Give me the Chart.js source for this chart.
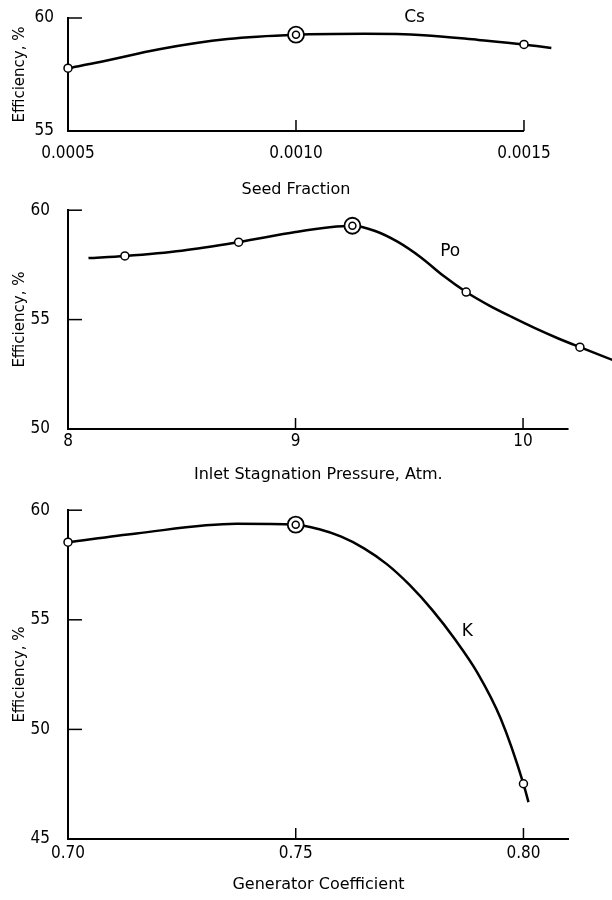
<!DOCTYPE html>
<html lang="en">

<head>
    <meta charset="UTF-8">
    <title>Efficiency vs Seed Fraction, Pressure, Generator Coefficient</title>
    <style>
        body {
            background-color: #fff;
            margin: 0;
            padding: 0;
        }

        #wrap {
            position: relative;
            width: 612px;
            height: 900px;
        }

        .panel {
            position: absolute;
            left: 0;
            width: 612px;
        }
    </style>
</head>

<body>
    <div id="wrap">
        <div class="panel" style="top:0"><canvas id="chartCs" width="612" height="210"></canvas></div>
        <div class="panel" style="top:190px"><canvas id="chartPo" width="612" height="300"></canvas></div>
        <div class="panel" style="top:490px"><canvas id="chartK" width="612" height="410"></canvas></div>
    </div>

    <script src="https://cdn.jsdelivr.net/npm/chart.js"></script>
    <script>
        // --- Seed fraction (Cs) ---
        const csCurveX = [0.0005, 0.00057, 0.0007, 0.00085, 0.0010, 0.00115, 0.00128, 0.00140, 0.0015, 0.00156];
        const csCurveY = [57.78, 58.05, 58.62, 59.07, 59.26, 59.30, 59.24, 59.03, 58.83, 58.67];
        const csPointX = [0.0005, 0.0015];
        const csPointY = [57.78, 58.83];
        const csDesign = [0.0010, 59.26];
        const csTicks = [0.0005, 0.0010, 0.0015];
        const csTickLabels = ['0.0005', '0.0010', '0.0015'];

        // --- Inlet stagnation pressure (Po) ---
        const poCurveX = [8.09, 8.25, 8.5, 8.75, 9.0, 9.15, 9.25, 9.35, 9.45, 9.55, 9.65, 9.75, 9.85, 9.95, 10.05, 10.15, 10.25, 10.40];
        const poCurveY = [57.81, 57.91, 58.15, 58.54, 59.0, 59.22, 59.29, 59.05, 58.55, 57.85, 57.0, 56.26, 55.65, 55.12, 54.62, 54.16, 53.74, 53.13];
        const poPointX = [8.25, 8.75, 9.75, 10.25];
        const poPointY = [57.91, 58.54, 56.26, 53.74];
        const poDesign = [9.25, 59.29];
        const poTicks = [8, 9, 10];
        const poTickLabels = ['8', '9', '10'];

        // --- Generator coefficient (K) ---
        const kCurveX = [0.70, 0.715, 0.737, 0.75, 0.755, 0.76, 0.765, 0.77, 0.775, 0.78, 0.785, 0.79, 0.795, 0.80, 0.8011];
        const kCurveY = [58.54, 58.94, 59.38, 59.34, 59.14, 58.79, 58.26, 57.54, 56.59, 55.44, 54.10, 52.55, 50.50, 47.52, 46.68];
        const kPointX = [0.70, 0.80];
        const kPointY = [58.54, 47.52];
        const kDesign = [0.75, 59.34];
        const kTicks = [0.70, 0.75, 0.80];
        const kTickLabels = ['0.70', '0.75', '0.80'];

        const tickFont = "'DejaVu Sans Condensed', 'Liberation Sans Narrow', 'DejaVu Sans', sans-serif";
        const titleFont = "'DejaVu Sans', sans-serif";

        // x axis line + title, small inward tick marks and the curve name, all from the scales
        const innerTicks = {
            id: 'innerTicks',
            afterDraw(chart, args, opts) {
                const { ctx, chartArea, scales: { x, y } } = chart;
                const axisEndPx = x.getPixelForValue(opts.axisEnd);
                ctx.save();
                ctx.strokeStyle = '#000';
                ctx.lineWidth = 2;
                ctx.beginPath();
                ctx.moveTo(chartArea.left, chartArea.bottom);
                ctx.lineTo(axisEndPx, chartArea.bottom);
                ctx.stroke();

                ctx.lineWidth = 1.5;
                y.ticks.forEach(t => {
                    if (t.value === y.min) return;
                    const py = y.getPixelForValue(t.value);
                    ctx.beginPath();
                    ctx.moveTo(chartArea.left, py);
                    ctx.lineTo(chartArea.left + 14, py);
                    ctx.stroke();
                });
                x.ticks.forEach(t => {
                    if (t.value === x.min) return;
                    const px = x.getPixelForValue(t.value);
                    ctx.beginPath();
                    ctx.moveTo(px, chartArea.bottom);
                    ctx.lineTo(px, chartArea.bottom - 11);
                    ctx.stroke();
                });

                ctx.fillStyle = '#000';
                ctx.textAlign = 'center';
                ctx.textBaseline = 'middle';
                // axis title, centred under the drawn axis line
                ctx.font = '16px ' + titleFont;
                ctx.fillText(opts.title, (chartArea.left + axisEndPx) / 2, chartArea.bottom + opts.titleOffset);
                // curve name
                ctx.font = '17px ' + titleFont;
                ctx.fillText(opts.text, x.getPixelForValue(opts.x), y.getPixelForValue(opts.y));
                ctx.restore();
            }
        };

        function toPoints(xs, ys) {
            return xs.map((v, i) => ({ x: v, y: ys[i] }));
        }

        function makeChart(id, cfg) {
            const ctx = document.getElementById(id).getContext('2d');
            return new Chart(ctx, {
                type: 'line',
                data: {
                    datasets: [
                        {   // inner ring of the design point
                            data: [{ x: cfg.design[0], y: cfg.design[1] }],
                            showLine: false, pointRadius: 3.5, pointBorderWidth: 1.5,
                            pointBackgroundColor: '#fff', pointBorderColor: '#000', clip: false
                        },
                        {   // outer ring
                            data: [{ x: cfg.design[0], y: cfg.design[1] }],
                            showLine: false, pointRadius: 8, pointBorderWidth: 1.8,
                            pointBackgroundColor: '#fff', pointBorderColor: '#000', clip: false
                        },
                        {
                            data: toPoints(cfg.ptX, cfg.ptY),
                            showLine: false, pointRadius: 4, pointBorderWidth: 1.5,
                            pointBackgroundColor: '#fff', pointBorderColor: '#000', clip: false
                        },
                        {
                            data: toPoints(cfg.curveX, cfg.curveY),
                            borderColor: '#000', borderWidth: 2.5, pointRadius: 0,
                            cubicInterpolationMode: 'monotone', capBezierPoints: false, clip: false
                        }
                    ]
                },
                options: {
                    responsive: false,
                    animation: false,
                    events: [],
                    layout: {
                        autoPadding: false,
                        padding: { top: cfg.padTop, right: cfg.padRight, left: 0, bottom: 0 }
                    },
                    plugins: {
                        legend: { display: false },
                        tooltip: { enabled: false },
                        innerTicks: cfg.label
                    },
                    scales: {
                        x: {
                            type: 'linear',
                            bounds: 'data',
                            // range set here (not min/max) so points past the axis end still draw
                            afterDataLimits: s => { s.min = cfg.xMin; s.max = cfg.xMax; },
                            grid: { display: false },
                            border: { display: false },
                            afterBuildTicks: s => { s.ticks = cfg.ticks.map(v => ({ value: v })); },
                            afterFit: s => { s.height = cfg.xHeight; },
                            ticks: {
                                color: '#000', padding: cfg.xPad, maxRotation: 0,
                                font: { family: tickFont, size: 17 },
                                callback: v => cfg.tickLabels[cfg.ticks.indexOf(v)]
                            }
                        },
                        y: {
                            min: cfg.yMin, max: 60,
                            grid: { display: false },
                            border: { display: true, color: '#000', width: 2 },
                            afterBuildTicks: s => {
                                const t = [];
                                for (let v = cfg.yMin; v <= 60; v += 5) t.push({ value: v });
                                s.ticks = t;
                            },
                            afterFit: s => { s.width = 68; },
                            ticks: {
                                color: '#000', padding: cfg.yPad,
                                font: { family: tickFont, size: 17 }
                            },
                            title: {
                                display: true, text: 'Efficiency, %', color: '#000',
                                font: { family: titleFont, size: 15 },
                                padding: { top: 11, bottom: 0 }
                            }
                        }
                    }
                },
                plugins: [innerTicks]
            });
        }

        makeChart('chartCs', {
            curveX: csCurveX, curveY: csCurveY, ptX: csPointX, ptY: csPointY, design: csDesign,
            ticks: csTicks, tickLabels: csTickLabels, xMin: 0.0005, xMax: 0.001579, yMin: 55,
            padTop: 18, padRight: 52, xHeight: 79, xPad: 4, yPad: 6,
            label: { text: 'Cs', x: 0.00126, y: 60.0, axisEnd: 0.0015, title: 'Seed Fraction', titleOffset: 59 }
        });

        makeChart('chartPo', {
            curveX: poCurveX, curveY: poCurveY, ptX: poPointX, ptY: poPointY, design: poDesign,
            ticks: poTicks, tickLabels: poTickLabels, xMin: 8, xMax: 10.391, yMin: 50,
            padTop: 12, padRight: 0, xHeight: 61, xPad: -6, yPad: 10,
            label: { text: 'Po', x: 9.68, y: 58.1, axisEnd: 10.2, title: 'Inlet Stagnation Pressure, Atm.', titleOffset: 46 }
        });

        makeChart('chartK', {
            curveX: kCurveX, curveY: kCurveY, ptX: kPointX, ptY: kPointY, design: kDesign,
            ticks: kTicks, tickLabels: kTickLabels, xMin: 0.70, xMax: 0.81, yMin: 45,
            padTop: 10, padRight: 43, xHeight: 61, xPad: -4, yPad: 10,
            label: { text: 'K', x: 0.7877, y: 54.47, axisEnd: 0.81, title: 'Generator Coefficient', titleOffset: 46 }
        });
    </script>
</body>

</html>
